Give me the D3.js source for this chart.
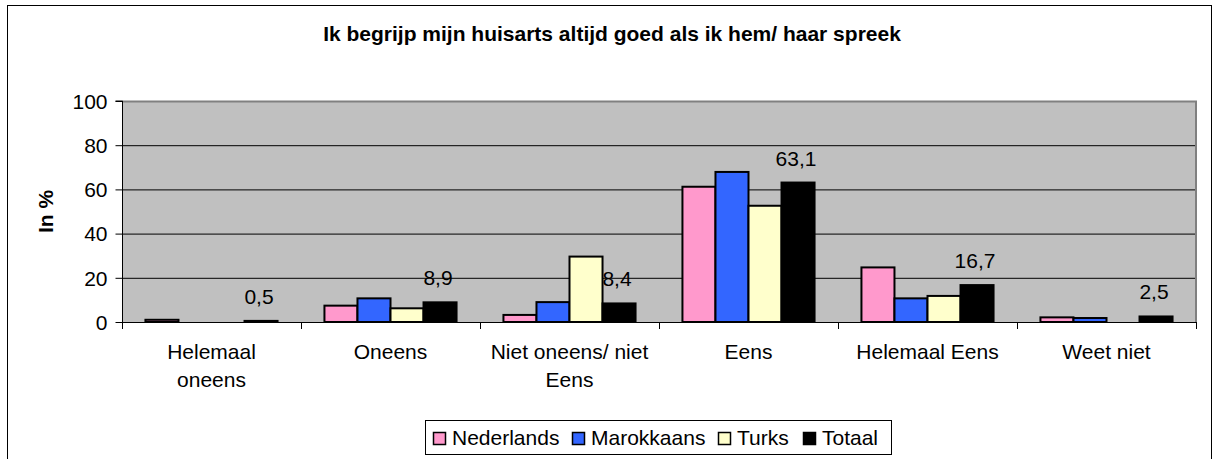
<!DOCTYPE html>
<html>
<head>
<meta charset="utf-8">
<script src="https://cdn.jsdelivr.net/npm/d3@7"></script>
<style>
  body { margin: 0; background: #fff; }
  svg { display: block; font-family: "Liberation Sans", Arial, sans-serif; }
</style>
</head>
<body>
<svg width="1213" height="459"></svg>
<script>
const categories = [["Helemaal", "oneens"], ["Oneens"], ["Niet oneens/ niet", "Eens"], ["Eens"], ["Helemaal Eens"], ["Weet niet"]];
const seriesNames = ["Nederlands", "Marokkaans", "Turks", "Totaal"];
const seriesColors = ["#FF99CC", "#3366FF", "#FFFFCC", "#000000"];
const nederlands = [1.0, 7.4, 3.2, 61.2, 24.7, 2.1];
const marokkaans = [0, 10.7, 9.0, 67.9, 10.7, 1.8];
const turks = [0, 6.2, 29.6, 52.6, 11.8, 0];
const totaal = [0.5, 8.9, 8.4, 63.1, 16.7, 2.5];
const yTicks = [0, 20, 40, 60, 80, 100];

const seriesValues = [nederlands, marokkaans, turks, totaal];

const svg = d3.select("svg"),
    width = +svg.attr("width"),
    height = +svg.attr("height");

const plot = { left: 122, right: 1196, top: 101, bottom: 322 };

// outer chart frame, runs past the bottom of the picture
svg.append("rect")
  .attr("x", 7.5).attr("y", 5.5)
  .attr("width", 1204).attr("height", 470)
  .attr("fill", "#fff").attr("stroke", "#000").attr("stroke-width", 1);

svg.append("text")
  .attr("x", 612).attr("y", 41)
  .attr("text-anchor", "middle")
  .attr("font-size", 21).attr("font-weight", "bold")
  .text("Ik begrijp mijn huisarts altijd goed als ik hem/ haar spreek");

const x = d3.scaleBand()
    .domain(d3.range(categories.length))
    .range([plot.left, plot.right]);

const gap = x.bandwidth() * 0.131;
const xs = d3.scaleBand()
    .domain(d3.range(seriesNames.length))
    .range([gap, x.bandwidth() - gap]);

const y = d3.scaleLinear().domain([0, 100]).range([plot.bottom, plot.top]);

// plot area
svg.append("rect")
  .attr("x", plot.left).attr("y", plot.top)
  .attr("width", plot.right - plot.left).attr("height", plot.bottom - plot.top)
  .attr("fill", "#C0C0C0");

// gridlines
svg.append("g").selectAll("line")
  .data(yTicks.filter(t => t > 0 && t < 100))
  .join("line")
  .attr("x1", plot.left).attr("x2", plot.right)
  .attr("y1", d => y(d) + 0.5).attr("y2", d => y(d) + 0.5)
  .attr("stroke", "#000").attr("stroke-width", 1);

// gray border top/right
svg.append("path")
  .attr("d", `M${plot.left},${plot.top + 0.5}H${plot.right}V${plot.bottom}`)
  .attr("fill", "none").attr("stroke", "#808080").attr("stroke-width", 2);

// bars
const barData = [];
seriesValues.forEach((vals, s) => {
  vals.forEach((v, c) => { if (v > 0) barData.push({ s, c, v }); });
});

svg.append("g").selectAll("rect")
  .data(barData)
  .join("rect")
  .attr("x", d => x(d.c) + xs(d.s))
  .attr("y", d => y(d.v))
  .attr("width", xs.bandwidth())
  .attr("height", d => y(0) - y(d.v))
  .attr("fill", d => seriesColors[d.s])
  .attr("stroke", "#000").attr("stroke-width", 2);

// data labels on Totaal
svg.append("g").selectAll("text")
  .data(totaal)
  .join("text")
  .attr("x", (d, i) => x(i) + xs(3) + xs.bandwidth() / 2 - 2)
  .attr("y", d => y(d) - 17)
  .attr("text-anchor", "middle")
  .attr("font-size", 21)
  .text(d => String(d).replace(".", ","));

// y axis
const yAxis = svg.append("g")
  .attr("transform", `translate(${plot.left + 0.5},0)`)
  .call(d3.axisLeft(y).tickValues(yTicks).tickSize(7).tickPadding(8));
yAxis.select(".domain").attr("stroke", "#000").attr("d", `M-7,${plot.top}H0V${plot.bottom + 6}`);
yAxis.selectAll("text").attr("font-size", 21).attr("fill", "#000")
  .attr("font-family", "Liberation Sans, Arial, sans-serif").attr("dy", "0.35em");

// x axis line + ticks at category edges
const xg = svg.append("g");
xg.append("line")
  .attr("x1", plot.left).attr("x2", plot.right)
  .attr("y1", plot.bottom + 0.5).attr("y2", plot.bottom + 0.5)
  .attr("stroke", "#000");
xg.selectAll(".tk")
  .data(d3.range(categories.length + 1))
  .join("line")
  .attr("class", "tk")
  .attr("x1", d => (d < categories.length ? x(d) : plot.right) + 0.5)
  .attr("x2", d => (d < categories.length ? x(d) : plot.right) + 0.5)
  .attr("y1", plot.bottom).attr("y2", plot.bottom + 7)
  .attr("stroke", "#000");

const catLabels = xg.selectAll(".cat")
  .data(categories)
  .join("text")
  .attr("class", "cat")
  .attr("text-anchor", "middle")
  .attr("font-size", 21);
catLabels.selectAll("tspan")
  .data((d, i) => d.map(line => ({ line, i })))
  .join("tspan")
  .attr("x", d => x(d.i) + x.bandwidth() / 2)
  .attr("y", (d, j) => 359 + j * 28)
  .text(d => d.line);

// y axis title
svg.append("text")
  .attr("transform", `translate(53,${(plot.top + plot.bottom) / 2}) rotate(-90)`)
  .attr("text-anchor", "middle")
  .attr("font-size", 21).attr("font-weight", "bold")
  .text("In %");

// legend
const legend = svg.append("g");
legend.append("rect")
  .attr("x", 425.5).attr("y", 420.5)
  .attr("width", 466).attr("height", 34)
  .attr("fill", "#fff").attr("stroke", "#000");

const legendX = [433, 572, 718, 803];
const items = legend.selectAll(".item")
  .data(seriesNames)
  .join("g")
  .attr("class", "item")
  .attr("transform", (d, i) => `translate(${legendX[i]},0)`);
items.append("rect")
  .attr("x", 0.5).attr("y", 432.5)
  .attr("width", 12).attr("height", 12)
  .attr("fill", (d, i) => seriesColors[i])
  .attr("stroke", "#000").attr("stroke-width", 1.5);
items.append("text")
  .attr("x", 19).attr("y", 445)
  .attr("font-size", 21)
  .text(d => d);
</script>
</body>
</html>
